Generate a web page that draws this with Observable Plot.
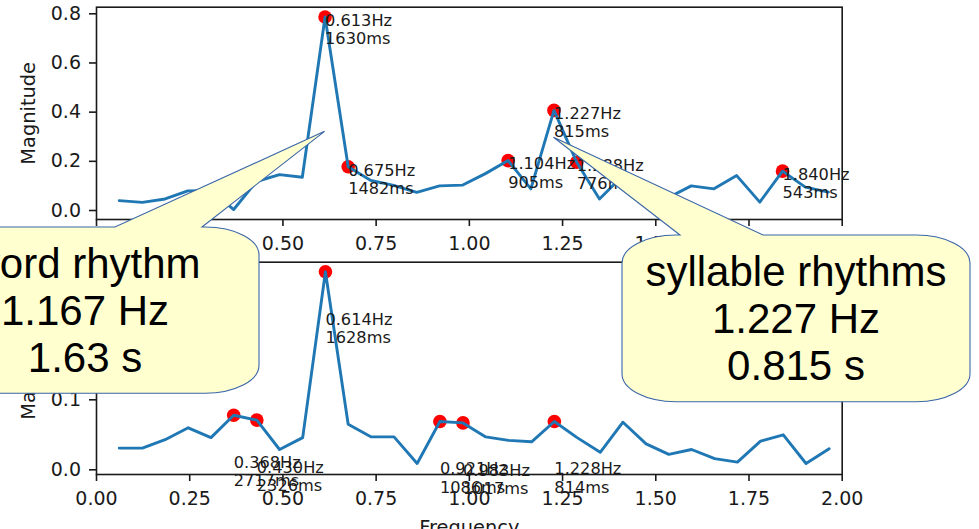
<!DOCTYPE html>
<html>
<head>
<meta charset="utf-8">
<script src="https://cdn.jsdelivr.net/npm/d3@7"></script>
<script src="https://cdn.jsdelivr.net/npm/@observablehq/plot@0.6"></script>
<style>
  html, body { margin: 0; padding: 0; background: white; }
  #chart { position: relative; width: 979px; height: 529px; overflow: hidden; background: white; }
  #chart > svg { display: block; }
  #overlay { position: absolute; left: 0; top: 0; pointer-events: none; }
</style>
</head>
<body>
<div id="chart"></div>
<script>
// ---------- data ----------
const topFreq = [0.061, 0.123, 0.184, 0.245, 0.307, 0.368, 0.429, 0.491, 0.552, 0.613,
                 0.675, 0.736, 0.797, 0.859, 0.920, 0.981, 1.043, 1.104, 1.165, 1.227,
                 1.288, 1.349, 1.411, 1.472, 1.533, 1.595, 1.656, 1.717, 1.779, 1.840,
                 1.901, 1.963];
const topMag  = [0.040, 0.033, 0.047, 0.080, 0.082, 0.004, 0.118, 0.146, 0.135, 0.787,
                 0.178, 0.122, 0.102, 0.074, 0.100, 0.103, 0.150, 0.203, 0.088, 0.407,
                 0.196, 0.047, 0.140, 0.070, 0.052, 0.100, 0.088, 0.142, 0.034, 0.160,
                 0.095, 0.075];
const topPeakHz = [0.613, 0.675, 1.104, 1.227, 1.288, 1.840];
const topPeakMs = [1630, 1482, 905, 815, 776, 543];

const botFreq = [0.061, 0.123, 0.184, 0.246, 0.307, 0.368, 0.430, 0.491, 0.553, 0.614,
                 0.675, 0.737, 0.798, 0.860, 0.921, 0.983, 1.044, 1.105, 1.167, 1.228,
                 1.289, 1.351, 1.412, 1.474, 1.535, 1.596, 1.658, 1.719, 1.781, 1.842,
                 1.903, 1.965];
const botMag  = [0.031, 0.031, 0.043, 0.060, 0.046, 0.078, 0.071, 0.029, 0.046, 0.283,
                 0.065, 0.047, 0.047, 0.009, 0.069, 0.067, 0.047, 0.042, 0.040, 0.069,
                 0.046, 0.025, 0.068, 0.037, 0.022, 0.029, 0.016, 0.011, 0.041, 0.050,
                 0.009, 0.030];
const botPeakHz = [0.368, 0.430, 0.614, 0.921, 0.983, 1.228];
const botPeakMs = [2717, 2326, 1628, 1086, 1017, 814];

const xTicks = [0, 0.25, 0.5, 0.75, 1, 1.25, 1.5, 1.75, 2];
const topYTicks = [0, 0.2, 0.4, 0.6, 0.8];
const botYTicks = [0, 0.1, 0.2];

const wordCallout = ["word rhythm", "1.167 Hz", "1.63 s"];
const syllableCallout = ["syllable rhythms", "1.227 Hz", "0.815 s"];
// where the callout tails point (data coords in top panel)
const wordTarget = [0.613, 0.32];
const syllableTarget = [1.227, 0.296];

// ---------- build ----------
function peaksOf(freq, mag, hz, ms) {
  return hz.map((h, i) => ({ f: h, m: mag[freq.indexOf(h)], label: `${h.toFixed(3)}Hz\n${ms[i]}ms` }));
}

function panel({ freq, mag, peaks, yDomain, yTicks, height, marginTop, marginBottom, labelDy, xLabel }) {
  const series = freq.map((f, i) => ({ f, m: mag[i] }));
  const marks = [
    Plot.dot(peaks, { x: "f", y: "m", r: 6.8, fill: "red" }),
    Plot.line(series, { x: "f", y: "m", stroke: "#1f77b4", strokeWidth: 2.9 }),
    Plot.text(peaks, { x: "f", y: "m", text: "label", textAnchor: "start", lineAnchor: "top",
                       dy: labelDy, fontSize: 16.2, lineHeight: 1.12, fill: "#1a1a1a" }),
    Plot.axisX({ ticks: xTicks, tickFormat: d3.format(".2f"), tickSize: 7, tickPadding: 10,
                 label: null, strokeWidth: 1.6, fill: "#1a1a1a" }),
    Plot.axisY({ ticks: yTicks, tickFormat: d3.format(".1f"), tickSize: 7, tickPadding: 8.5,
                 label: null, strokeWidth: 1.6, fill: "#1a1a1a" }),
    Plot.frame({ stroke: "#1a1a1a", strokeWidth: 1.6 }),
    Plot.text(["Magnitude"], { frameAnchor: "left", dx: -68, rotate: -90, textAnchor: "middle",
                               fontSize: 19.4, fill: "#1a1a1a" })
  ];
  if (xLabel) marks.push(Plot.text([xLabel], { frameAnchor: "bottom", dy: 46, lineAnchor: "top", fontSize: 19.4, fill: "#1a1a1a" }));
  return Plot.plot({
    width: 979, height, marginLeft: 96, marginRight: 137.3, marginTop, marginBottom,
    style: { fontFamily: "DejaVu Sans", fontSize: "19px", color: "#1a1a1a", background: "transparent", overflow: "visible" },
    x: { domain: [0, 2] },
    y: { domain: yDomain },
    marks
  });
}

const topPlot = panel({
  freq: topFreq, mag: topMag, peaks: peaksOf(topFreq, topMag, topPeakHz, topPeakMs),
  yDomain: [-0.0366, 0.8268], yTicks: topYTicks, height: 258, marginTop: 6.7, marginBottom: 39, labelDy: -4
});
const botPlot = panel({
  freq: botFreq, mag: botMag, peaks: peaksOf(botFreq, botMag, botPeakHz, botPeakMs),
  yDomain: [-0.0067, 0.2966], yTicks: botYTicks, height: 271, marginTop: 3.7, marginBottom: 55, labelDy: 40,
  xLabel: "Frequency"
});

const chart = document.getElementById("chart");
chart.appendChild(topPlot);
chart.appendChild(botPlot);

// ---------- callout overlay ----------
const sx = topPlot.scale("x"), sy = topPlot.scale("y");
const callouts = [
  { left: -89, right: 259, top: 227, bottom: 393.3, base: [115, 202], target: wordTarget, lines: wordCallout },
  { left: 622, right: 970, top: 235, bottom: 401.7, base: [680, 763], target: syllableTarget, lines: syllableCallout }
];
const overlay = d3.select(chart).append("svg").attr("id", "overlay").attr("width", 979).attr("height", 529);
const rx = 54, ry = 28;
for (const c of callouts) {
  const tx = sx.apply(c.target[0]), ty = sy.apply(c.target[1]);
  const d = `M${c.left + rx},${c.top} L${c.base[0]},${c.top} L${tx},${ty} L${c.base[1]},${c.top} ` +
            `L${c.right - rx},${c.top} A${rx},${ry} 0 0 1 ${c.right},${c.top + ry} ` +
            `L${c.right},${c.bottom - ry} A${rx},${ry} 0 0 1 ${c.right - rx},${c.bottom} ` +
            `L${c.left + rx},${c.bottom} A${rx},${ry} 0 0 1 ${c.left},${c.bottom - ry} ` +
            `L${c.left},${c.top + ry} A${rx},${ry} 0 0 1 ${c.left + rx},${c.top} Z`;
  overlay.append("path").attr("d", d).attr("fill", "#ffffcf").attr("stroke", "#3a66a8").attr("stroke-width", 1.1);
  const cx = (c.left + c.right) / 2;
  c.lines.forEach((t, i) => {
    overlay.append("text").attr("x", cx).attr("y", c.top + 51 + i * 47)
      .attr("text-anchor", "middle").attr("font-family", "Liberation Sans, Arial, sans-serif")
      .attr("font-size", 42).attr("fill", "black").text(t);
  });
}
</script>
</body>
</html>
